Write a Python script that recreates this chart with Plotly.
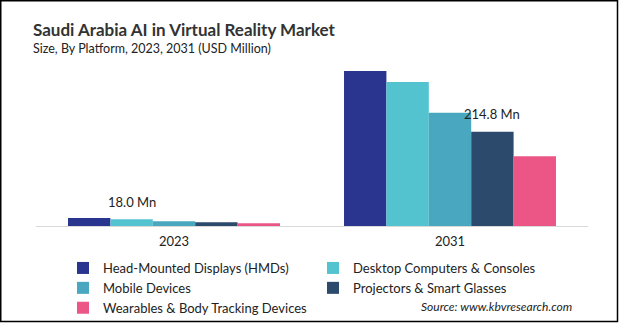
import plotly.graph_objects as go

years = ["2023", "2031"]
series = [
    "Head-Mounted Displays (HMDs)",
    "Desktop Computers & Consoles",
    "Mobile Devices",
    "Projectors & Smart Glasses",
    "Wearables & Body Tracking Devices",
]
hmd = [18.0, 353.5]
desktop = [15.3, 328.4]
mobile = [10.7, 258.2]
projectors = [8.5, 214.8]
wearables = [6.2, 159.3]
values = [hmd, desktop, mobile, projectors, wearables]
colors = ["#2a3590", "#52c3cf", "#4aa7c0", "#2b4a6c", "#eb5686"]

W, H = 620, 323
FONT = "Lato"

def px(x):
    return x / W
def py(y):
    return (H - y) / H

fig = go.Figure()
for name, vals, col in zip(series, values, colors):
    fig.add_trace(go.Bar(x=years, y=vals, name=name, marker=dict(color=col, line=dict(width=0))))

# value labels
bw = (1 - 0.232) / 5
fig.add_annotation(x=0 - bw, y=hmd[0], xref="x", yref="y", text="18.0 Mn", showarrow=False,
                   yanchor="bottom", yshift=6, font=dict(size=13, color="#222"))
fig.add_annotation(x=1 + bw, y=projectors[1], xref="x", yref="y", text="214.8 Mn", showarrow=False,
                   yanchor="bottom", yshift=8, font=dict(size=13, color="#222"))

fig.add_annotation(x=px(31), y=py(30), xref="paper", yref="paper", xanchor="left", yanchor="middle",
                   text="<b>Saudi Arabia AI in Virtual Reality Market</b>", showarrow=False,
                   font=dict(size=17, color="#333", family=FONT))
fig.add_annotation(x=px(31), y=py(48), xref="paper", yref="paper", xanchor="left", yanchor="middle",
                   text="Size, By Platform, 2023, 2031 (USD Million)", showarrow=False,
                   font=dict(size=12.5, color="#222", family=FONT))
fig.add_annotation(x=px(574), y=py(306), xref="paper", yref="paper", xanchor="right", yanchor="middle",
                   text="<i>Source: www.kbvresearch.com</i>", showarrow=False,
                   font=dict(size=12, color="#222", family=FONT))

# outer frame
fig.add_shape(type="rect", xref="paper", yref="paper", x0=px(0.75), x1=px(617.5), y0=py(321.5), y1=py(0.75),
              line=dict(color="#000", width=1.5), fillcolor="rgba(0,0,0,0)", layer="above")

fig.update_layout(
    width=W, height=H,
    margin=dict(l=0, r=0, t=0, b=0, autoexpand=False),
    paper_bgcolor="white", plot_bgcolor="white",
    font=dict(family=FONT, size=13, color="#222"),
    barmode="group", bargap=0.232, bargroupgap=0,
    showlegend=True,
    legend=dict(orientation="h", x=px(63), y=py(323), xanchor="left", yanchor="bottom",
                entrywidth=205, entrywidthmode="pixels", traceorder="normal",
                font=dict(size=13, family=FONT, color="#222"), itemwidth=30,
                tracegroupgap=0, bgcolor="rgba(0,0,0,0)", borderwidth=0),
    xaxis=dict(domain=[px(36), px(588)], showline=True, linecolor="#d9d9d9", linewidth=1, ticks="",
               showgrid=False, ticklabelstandoff=3, tickfont=dict(size=13, family=FONT, color="#222")),
    yaxis=dict(domain=[py(226), py(50.6)], range=[0, 400], visible=False, showgrid=False, zeroline=False),
)

fig.write_html("out.html")
